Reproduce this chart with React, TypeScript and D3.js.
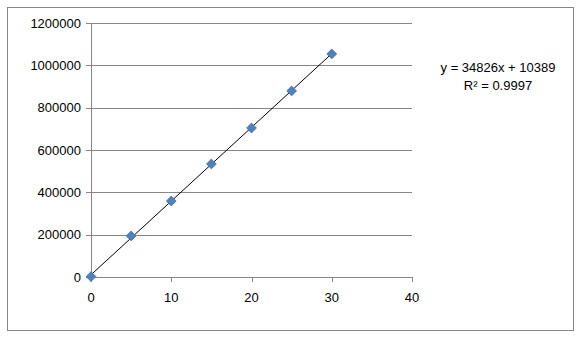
import React from "react";
import * as d3 from "d3";

const xValues = [0, 5, 10, 15, 20, 25, 30];
const yValues = [2000, 194000, 359000, 534000, 704000, 879000, 1054000];
const xTicks = [0, 10, 20, 30, 40];
const yTicks = [0, 200000, 400000, 600000, 800000, 1000000, 1200000];
const slope = 34826;
const intercept = 10389;
const equationLines = ["y = 34826x + 10389", "R² = 0.9997"];

export default function App() {
  const W = 581, H = 340;
  const x = d3.scaleLinear().domain([0, 40]).range([91, 412]);
  const y = d3.scaleLinear().domain([0, 1200000]).range([277, 23]);
  const font = "'Liberation Sans', Arial, sans-serif";
  const grid = "#868686";
  const diamond = d3.symbol().type(d3.symbolDiamond2).size(61)()!;
  const trend = d3.line<number>().x((d) => x(d)).y((d) => y(slope * d + intercept));
  return (
    <svg width={W} height={H} style={{ position: "absolute", left: 0, top: 0 }}>
      <rect x={0} y={0} width={W} height={H} fill="#fff" />
      <rect x={7.5} y={7.5} width={566} height={323} fill="#fff" stroke={grid} strokeWidth={1} />
      {yTicks.map((t) => (
        <g key={t}>
          <line x1={86} x2={412} y1={Math.round(y(t)) + 0.5} y2={Math.round(y(t)) + 0.5} stroke={grid} />
          <text x={81} y={y(t) + 4.5} textAnchor="end" fontFamily={font} fontSize={13} fill="#000">
            {t}
          </text>
        </g>
      ))}
      <line x1={91.5} x2={91.5} y1={y(1200000)} y2={y(0)} stroke={grid} />
      {xTicks.map((t) => (
        <g key={t}>
          <line x1={Math.round(x(t)) + 0.5} x2={Math.round(x(t)) + 0.5} y1={y(0)} y2={y(0) + 5} stroke={grid} />
          <text x={x(t)} y={302} textAnchor="middle" fontFamily={font} fontSize={13} fill="#000">
            {t}
          </text>
        </g>
      ))}
      <path d={trend([0, 30]) || ""} stroke="#000" strokeWidth={1} fill="none" />
      {xValues.map((v, i) => (
        <path
          key={i}
          d={diamond}
          transform={`translate(${x(v)},${y(yValues[i])})`}
          fill="#4F81BD"
          stroke="#3F6FA8"
          strokeWidth={0.8}
        />
      ))}
      {equationLines.map((l, i) => (
        <text key={i} x={498} y={72 + i * 18} textAnchor="middle" fontFamily={font} fontSize={13} fill="#000">
          {l}
        </text>
      ))}
    </svg>
  );
}
